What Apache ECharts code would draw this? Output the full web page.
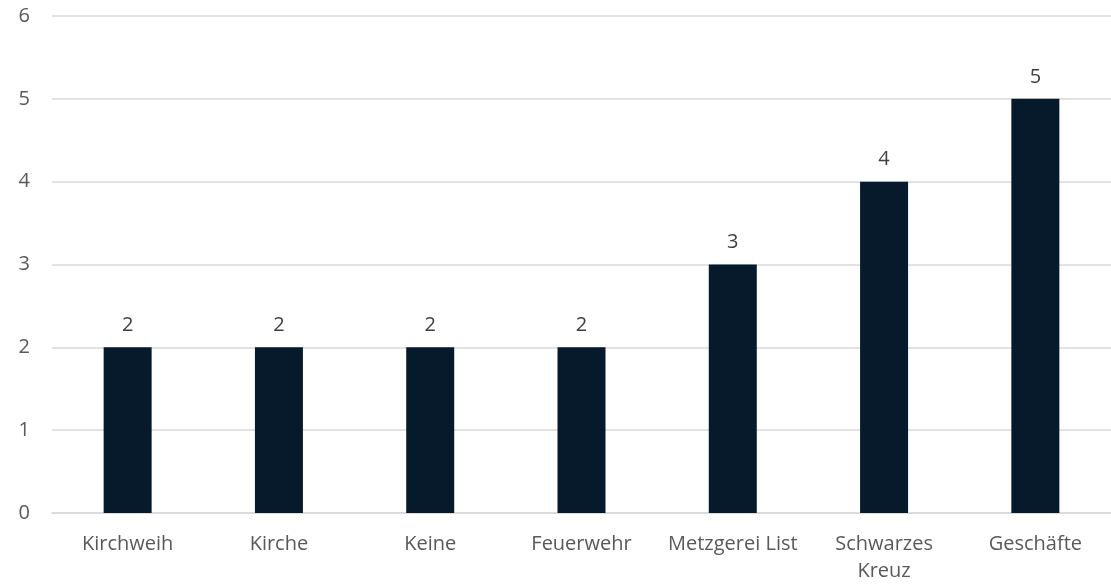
<!DOCTYPE html>
<html>
<head>
<meta charset="utf-8">
<script src="https://cdn.jsdelivr.net/npm/echarts@6/dist/echarts.min.js"></script>
<style>
  html, body { margin: 0; padding: 0; background: #fff; }
  #chart { width: 1111px; height: 588px; }
</style>
</head>
<body>
<div id="chart"></div>
<script>
// Kategorien und Werte
const categories = ['Kirchweih', 'Kirche', 'Keine', 'Feuerwehr', 'Metzgerei List', 'Schwarzes\nKreuz', 'Geschäfte'];
const values = [2, 2, 2, 2, 3, 4, 5];
const yMin = 0, yMax = 6, yStep = 1;

const chart = echarts.init(document.getElementById('chart'));
chart.setOption({
  backgroundColor: '#ffffff',
  animation: false,
  textStyle: { fontFamily: '"Open Sans", sans-serif' },
  grid: { left: 52, right: 0, top: 16, bottom: 75 },
  xAxis: {
    type: 'category',
    data: categories,
    axisLine: { show: true, lineStyle: { color: '#d9d9d9', width: 1.5 } },
    axisTick: { show: false },
    axisLabel: {
      color: '#595959',
      fontSize: 20,
      margin: 18,
      lineHeight: 27,
      interval: 0
    }
  },
  yAxis: {
    type: 'value',
    min: yMin,
    max: yMax,
    interval: yStep,
    axisLine: { show: false },
    axisTick: { show: false },
    axisLabel: { color: '#595959', fontSize: 20, margin: 22 },
    splitLine: { lineStyle: { color: '#d9d9d9', width: 1.5 } }
  },
  series: [{
    type: 'bar',
    data: values,
    barWidth: 48,
    itemStyle: { color: '#061a2c' },
    label: {
      show: true,
      position: 'top',
      distance: 12,
      color: '#404040',
      fontSize: 20
    }
  }]
});
</script>
</body>
</html>
